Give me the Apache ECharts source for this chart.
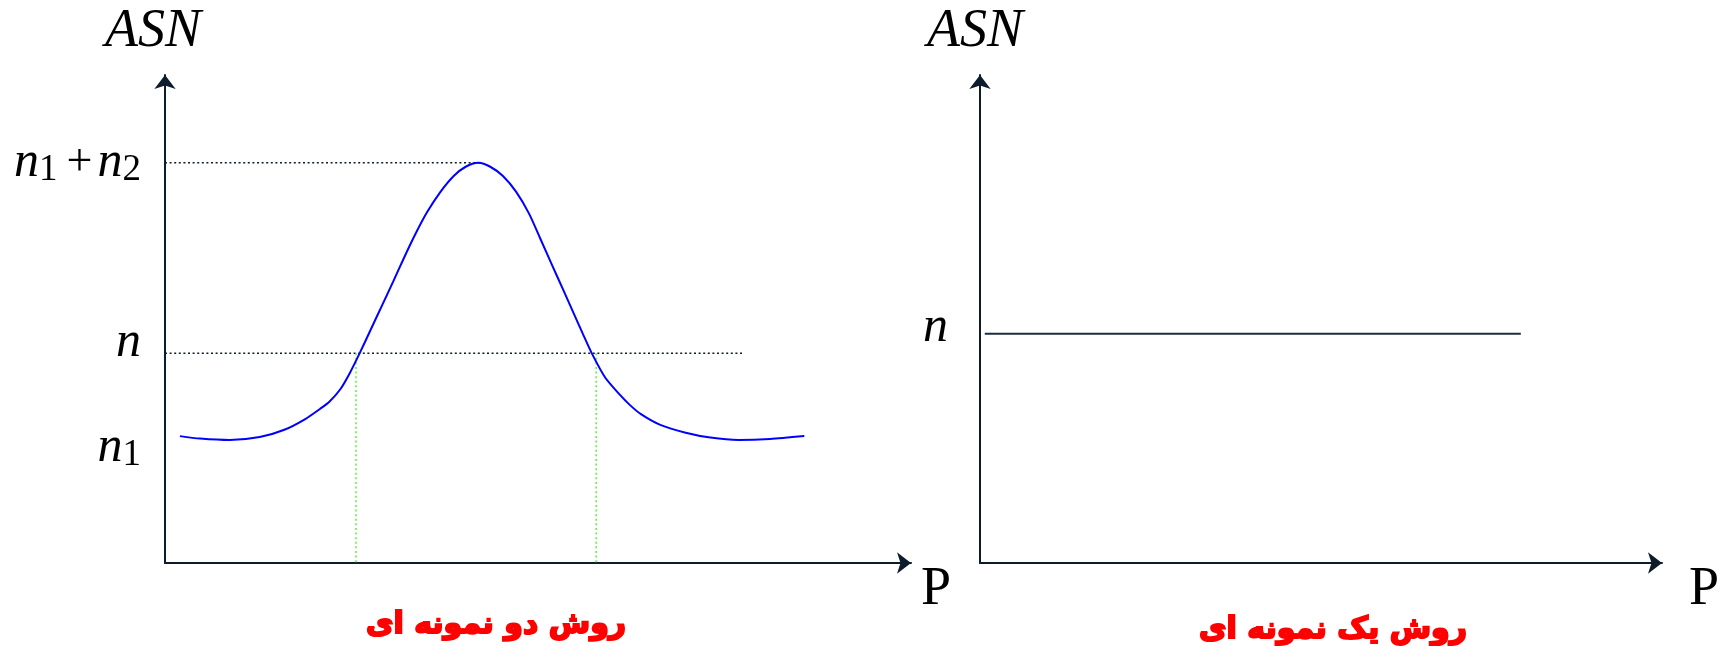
<!DOCTYPE html>
<html>
<head>
<meta charset="utf-8">
<script src="https://cdn.jsdelivr.net/npm/echarts@6/dist/echarts.min.js"></script>
<style>
  html, body { margin: 0; padding: 0; background: #ffffff; }
  #main { width: 1725px; height: 646px; }
</style>
</head>
<body>
<div id="main"></div>
<script>
// ASN levels marked on the left (double sampling) axis
const levelValues = [25, 43, 82];                 // n1, n, n1 + n2
const levelTexts = ['{nd|n}{sd|1}', '{nu|n}', '{n|n}{s|1}{op|+}{n|n}{s|2}'];

// Double sampling ASN curve against P
const twoStageP   = [0.020, 0.047, 0.087, 0.127, 0.160, 0.188, 0.208, 0.220, 0.235, 0.248,
                     0.261, 0.276, 0.291, 0.306, 0.320, 0.335, 0.351, 0.369, 0.387, 0.403,
                     0.420, 0.436, 0.453, 0.471, 0.488, 0.503, 0.519, 0.534, 0.548, 0.560,
                     0.572, 0.590, 0.609, 0.623, 0.638, 0.664, 0.698, 0.731, 0.769, 0.811, 0.857];
const twoStageASN = [26.0, 25.5, 25.2, 25.8, 27.3, 29.5, 31.6, 33.0, 35.6, 39.0,
                     43.0, 47.9, 52.8, 57.7, 62.4, 67.2, 71.8, 76.0, 79.3, 81.2,
                     82.0, 81.2, 79.3, 76.0, 71.6, 66.5, 61.0, 55.9, 51.1, 47.0,
                     43.0, 38.0, 34.6, 32.4, 30.5, 28.3, 26.7, 25.7, 25.2, 25.4, 26.0];

// Where the curve crosses the single-sample size n
const crossP = [0.256, 0.578];
// Extent of the horizontal reference lines
const peakGuideEnd = 0.422;
const nGuideEnd = 0.776;

// Single sampling: constant ASN = n
const oneStageP   = [0.007, 0.793];
const oneStageASN = [47, 47];
const oneLevelValues = [47];
const oneLevelTexts = ['{nr|n}'];

const panelTitles = ['روش دو نمونه ای', 'روش یک نمونه ای'];

const AXIS_COLOR = '#0c1c2c';
const serif = "'Liberation Serif', 'Times New Roman', serif";

const italicN = { fontFamily: serif, fontStyle: 'italic', fontSize: 50, color: '#000' };
const subDigit = { fontFamily: serif, fontSize: 37, color: '#000' };
const richLabels = {
  n:  italicN,
  nd: Object.assign({}, italicN, { padding: [14, 0, 0, 0] }),
  nu: Object.assign({}, italicN, { padding: [0, 0, 20, 0] }),
  nr: Object.assign({}, italicN, { padding: [0, 0, 12, 0] }),
  s:  Object.assign({}, subDigit, { padding: [14, 0, 0, 0] }),
  sd: Object.assign({}, subDigit, { padding: [28, 0, 0, 0] }),
  op: { fontFamily: serif, fontSize: 46, color: '#000', padding: [0, 5, 0, 9] }
};

function axisLine() {
  return { show: true, onZero: false, symbol: ['none', 'arrow'], symbolSize: [16, 14],
           lineStyle: { color: AXIS_COLOR, width: 2 } };
}

function xAxis(gridIndex, gap) {
  return {
    type: 'value', gridIndex: gridIndex, min: 0, max: 1,
    axisLine: axisLine(), axisTick: { show: false }, axisLabel: { show: false },
    splitLine: { show: false },
    name: 'P', nameLocation: 'end', nameGap: gap,
    nameTextStyle: { fontFamily: serif, fontSize: 54, color: '#000', verticalAlign: 'top', align: 'left' }
  };
}

function yAxis(gridIndex, values, texts, margin, pad) {
  return {
    type: 'value', gridIndex: gridIndex, min: 0, max: 100,
    axisLine: axisLine(), axisTick: { show: false }, splitLine: { show: false },
    axisLabel: {
      show: true, customValues: values, margin: margin,
      formatter: v => texts[values.indexOf(v)] || '',
      rich: richLabels
    },
    name: 'ASN', nameLocation: 'end', nameGap: 16,
    nameTextStyle: { fontFamily: serif, fontStyle: 'italic', fontSize: 54, color: '#000',
                     align: 'center', padding: pad }
  };
}

function dotted(color, width) {
  return { color: color, width: width, type: [2, 2.6] };
}

const series = [
  {
    name: 'two-stage', type: 'line', xAxisIndex: 0, yAxisIndex: 0,
    data: twoStageP.map((p, i) => [p, twoStageASN[i]]),
    smooth: 0.25, showSymbol: false, z: 5,
    lineStyle: { color: '#0000ff', width: 2 }
  },
  {
    name: 'peak-guide', type: 'line', xAxisIndex: 0, yAxisIndex: 0,
    data: [[0, levelValues[2]], [peakGuideEnd, levelValues[2]]],
    showSymbol: false, lineStyle: dotted('#0c1c2c', 1.5)
  },
  {
    name: 'n-guide', type: 'line', xAxisIndex: 0, yAxisIndex: 0,
    data: [[0, levelValues[1]], [nGuideEnd, levelValues[1]]],
    showSymbol: false, lineStyle: dotted('#0c1c2c', 1.5)
  }
].concat(crossP.map((p, i) => ({
    name: 'cross-' + i, type: 'line', xAxisIndex: 0, yAxisIndex: 0,
    data: [[p, levelValues[1]], [p, 0]],
    showSymbol: false, z: 3, lineStyle: dotted('#5cf03a', 1.5)
}))).concat([
  {
    name: 'one-stage', type: 'line', xAxisIndex: 1, yAxisIndex: 1,
    data: oneStageP.map((p, i) => [p, oneStageASN[i]]),
    showSymbol: false, lineStyle: { color: '#1c2c3c', width: 2 }
  }
]);

const titleStyle = {
  fontFamily: 'DejaVu Sans', fontWeight: 'bold', fontSize: 30, color: '#ff0000',
  textBorderColor: '#ff0000', textBorderWidth: 2
};

const chart = echarts.init(document.getElementById('main'), null, { renderer: 'canvas' });
chart.setOption({
  backgroundColor: '#ffffff',
  animation: false,
  title: [
    { text: panelTitles[0], left: 491, top: 605, textAlign: 'center', textStyle: titleStyle },
    { text: panelTitles[1], left: 1328, top: 610, textAlign: 'center', textStyle: titleStyle }
  ],
  grid: [
    { left: 165, right: 814, top: 75, bottom: 83 },
    { left: 980, right: 63, top: 75, bottom: 83 }
  ],
  xAxis: [xAxis(0, 10), xAxis(1, 27)],
  yAxis: [
    yAxis(0, levelValues, levelTexts, 24, [0, 24, 0, 0]),
    yAxis(1, oneLevelValues, oneLevelTexts, 32, [0, 10, 0, 0])
  ],
  series: series
});
</script>
</body>
</html>
